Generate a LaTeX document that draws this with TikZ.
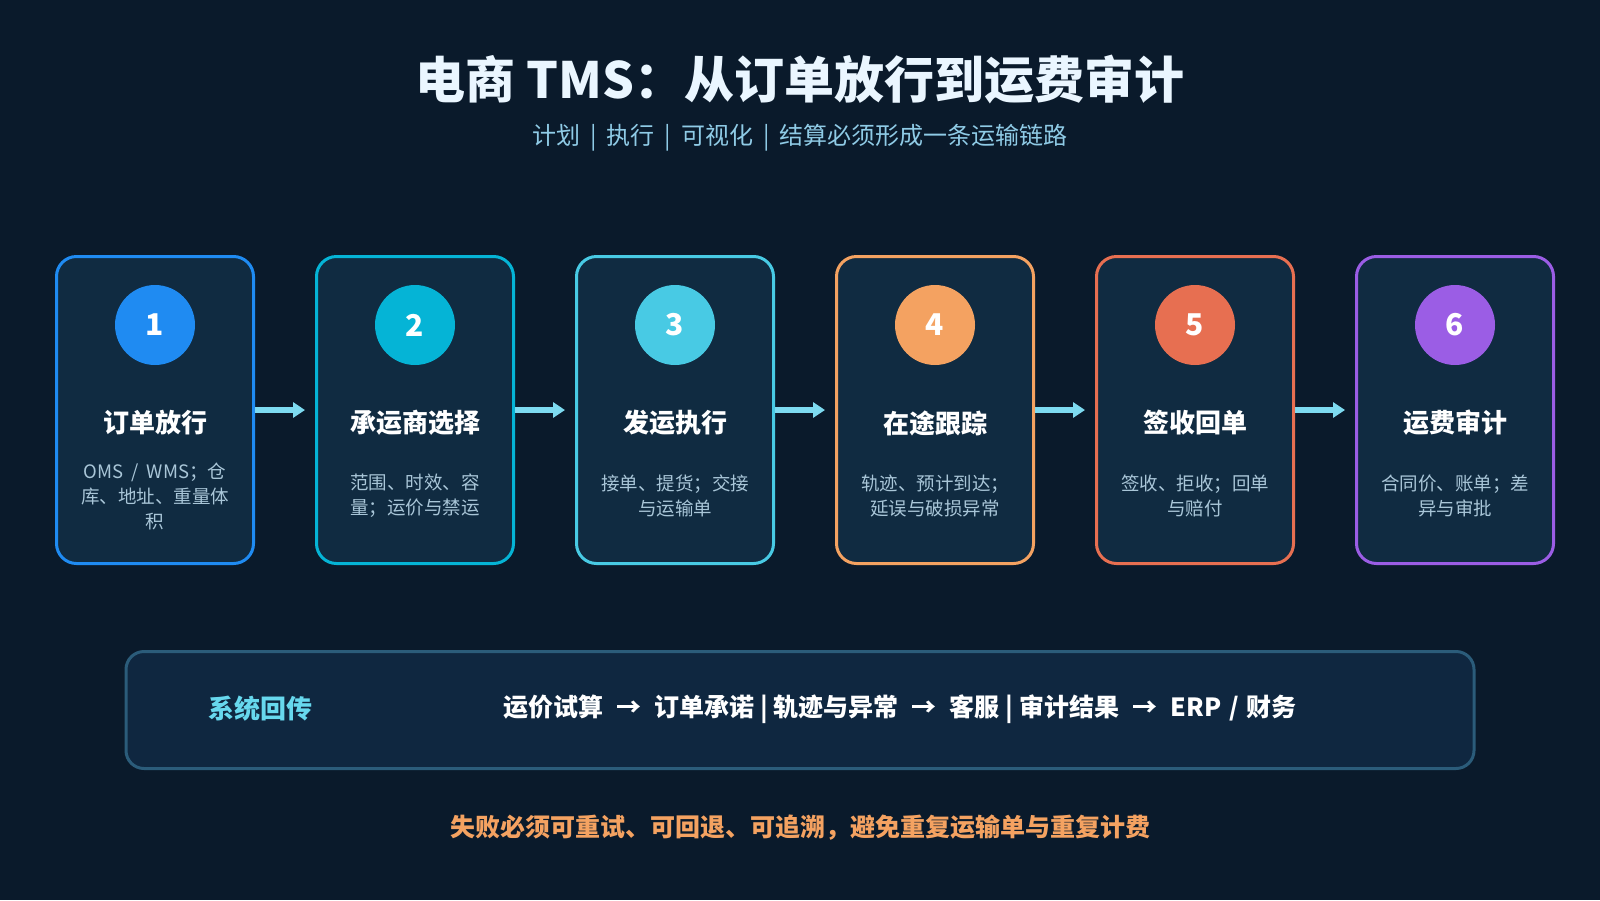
\documentclass[tikz,border=0pt]{standalone}
\usepackage{fontspec}
\setmainfont{Noto Sans CJK SC}
\usetikzlibrary{arrows.meta}
\definecolor{bg}{HTML}{0A1A2B}
\definecolor{boxfill}{HTML}{102B41}
\definecolor{titlecol}{HTML}{EAF6FF}
\definecolor{subcol}{HTML}{8FCBE6}
\definecolor{desccol}{HTML}{A9C6D8}
\definecolor{arrowcol}{HTML}{7DDAF0}
\definecolor{cA}{HTML}{1F8BF2}
\definecolor{cB}{HTML}{05B4D6}
\definecolor{cC}{HTML}{48CAE4}
\definecolor{cD}{HTML}{F4A261}
\definecolor{cE}{HTML}{E76F51}
\definecolor{cF}{HTML}{9B5DE5}
\definecolor{panelborder}{HTML}{2B5C7A}
\definecolor{panelfill}{HTML}{0F2740}
\definecolor{labelcol}{HTML}{67D8EE}
\definecolor{warncol}{HTML}{F4A261}
\newcommand{\sepbar}{\hspace{10pt}|\hspace{10pt}}
\newcommand{\separr}{\hspace{13pt}→\hspace{13pt}}
\newcommand{\septhin}{\hspace{6pt}|\hspace{6pt}}
\newcommand{\slashsep}{\hspace{8pt}/\hspace{8pt}}
\begin{document}
\begin{tikzpicture}[x=1pt,y=-1pt,
  stepbox/.style={draw=#1, line width=3pt, fill=boxfill, rounded corners=20pt,
    minimum width=197pt, minimum height=307pt, inner sep=0pt},
  numdot/.style={circle, fill=#1, minimum size=80pt, inner sep=0pt, text=white,
    font=\fontsize{30}{30}\selectfont\bfseries},
  steptitle/.style={text=white, inner sep=0pt, font=\fontsize{26}{26}\selectfont\bfseries},
  stepdesc/.style={text=desccol, inner sep=0pt, align=center, font=\fontsize{18.5}{25}\selectfont},
  flow/.style={draw=arrowcol, line width=6pt, -{Triangle[length=12pt,width=15pt]}, shorten >=10pt}
]
\fill[bg] (0,0) rectangle (1600,900);
\useasboundingbox (0,0) rectangle (1600,900);

\node[text=titlecol, font=\fontsize{50}{50}\selectfont\bfseries] (title) at (800,79) {电商 TMS：从订单放行到运费审计};
\node[text=subcol, font=\fontsize{24}{24}\selectfont] (subtitle) at (800,138) {计划\sepbar 执行\sepbar 可视化\sepbar 结算必须形成一条运输链路};

\foreach \i/\col/\ttl/\desc/\dy in {
  1/cA/订单放行/{OMS\slashsep WMS；仓\\库、地址、重量体\\积}/496,
  2/cB/承运商选择/{范围、时效、容\\量；运价与禁运}/496,
  3/cC/发运执行/{接单、提货；交接\\与运输单}/496,
  4/cD/在途跟踪/{轨迹、预计到达；\\延误与破损异常}/496,
  5/cE/签收回单/{签收、拒收；回单\\与赔付}/496,
  6/cF/运费审计/{合同价、账单；差\\异与审批}/496} {
  \pgfmathsetmacro{\cx}{155+260*(\i-1)}
  \node[stepbox=\col] (b\i) at (\cx,410) {};
  \node[numdot=\col] (c\i) at (\cx,325) {\i};
  \node[steptitle] (t\i) at (\cx,423) {\ttl};
  \node[stepdesc] (d\i) at (\cx,\dy) {\desc};
}

\foreach \i/\j in {1/2,2/3,3/4,4/5,5/6}
  \draw[flow] (b\i.east) -- (b\j.west);

\node[draw=panelborder, line width=3pt, fill=panelfill, rounded corners=18pt,
  minimum width=1348pt, minimum height=117pt] (panel) at (800,710) {};
\node[text=labelcol, font=\fontsize{26}{26}\selectfont\bfseries] (plabel) at (260,709) {系统回传};
\node[text=white, font=\fontsize{25}{25}\selectfont\bfseries] (ptext) at (900,709) {运价试算\separr 订单承诺\septhin 轨迹与异常\separr 客服\septhin 审计结果\separr ERP\slashsep 财务};

\node[text=warncol, font=\fontsize{25}{25}\selectfont\bfseries] (warn) at (800,828) {失败必须可重试、可回退、可追溯，避免重复运输单与重复计费};
\end{tikzpicture}
\end{document}
